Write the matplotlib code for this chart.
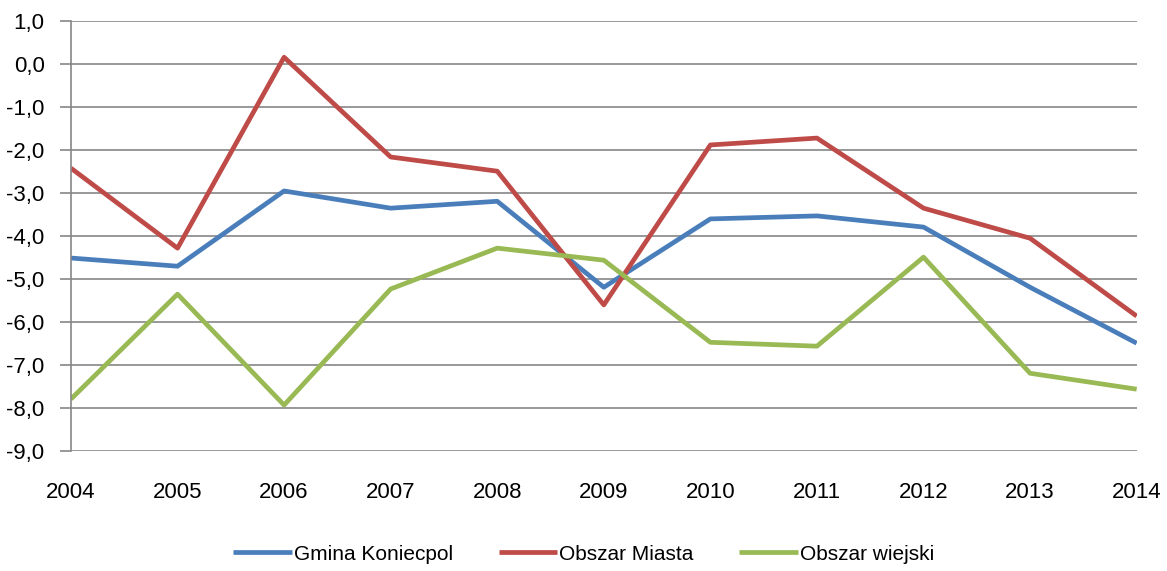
import matplotlib
matplotlib.use("Agg")
import matplotlib.pyplot as plt
from matplotlib.ticker import FuncFormatter

plt.rcParams['font.family'] = ['Liberation Sans', 'DejaVu Sans']

lata = [2004, 2005, 2006, 2007, 2008, 2009, 2010, 2011, 2012, 2013, 2014]
gmina = [-4.51, -4.70, -2.95, -3.35, -3.19, -5.19, -3.60, -3.53, -3.79, -5.19, -6.49]
miasto = [-2.42, -4.28, 0.16, -2.16, -2.49, -5.60, -1.88, -1.72, -3.35, -4.05, -5.86]
wies = [-7.79, -5.35, -7.93, -5.23, -4.28, -4.56, -6.47, -6.56, -4.49, -7.19, -7.56]

fig = plt.figure(figsize=(11.67, 5.71), dpi=100)
ax = fig.add_axes([0.0608, 0.210, 0.9132, 0.753])

ax.plot(lata, gmina, color='#4A7EBB', lw=3.4, label='Gmina Koniecpol', solid_capstyle='butt')
ax.plot(lata, miasto, color='#BE4B48', lw=3.4, label='Obszar Miasta', solid_capstyle='butt')
ax.plot(lata, wies, color='#98B954', lw=3.4, label='Obszar wiejski', solid_capstyle='butt')

ax.set_xlim(2004, 2014)
ax.set_ylim(-9, 1)
ax.set_yticks(range(-9, 2))
ax.set_xticks(lata)
ax.yaxis.set_major_formatter(FuncFormatter(lambda v, p: f"{v:.1f}".replace('.', ',')))
ax.grid(axis='y', color='#868686', lw=1.2)
ax.set_axisbelow(True)
for s in ['top', 'right', 'bottom']:
    ax.spines[s].set_visible(False)
ax.spines['left'].set_color('#868686')
ax.spines['left'].set_linewidth(1.2)
ax.tick_params(axis='y', length=8, width=1.2, color='#868686', labelsize=16, pad=11)
ax.tick_params(axis='x', length=0, labelsize=16, pad=22)

fig.legend(loc='lower center', ncol=3, frameon=False, fontsize=15,
           bbox_to_anchor=(0.5, -0.02), handlelength=2.8, columnspacing=2.2, handletextpad=0.1)

fig.savefig('out.png', dpi=100)
